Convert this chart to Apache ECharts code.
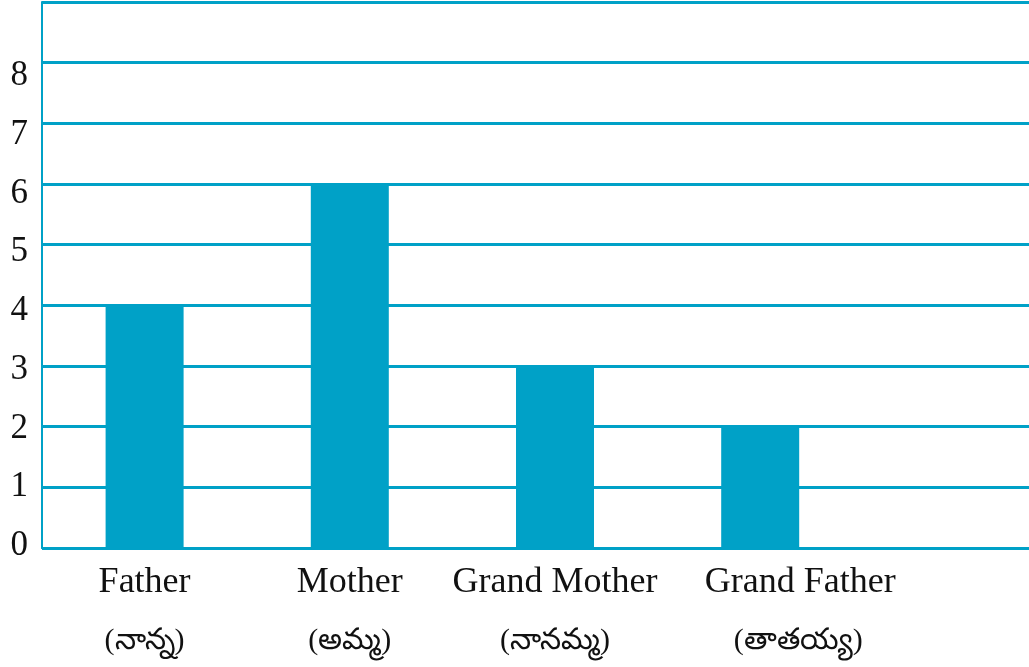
<!DOCTYPE html>
<html>
<head>
<meta charset="utf-8">
<script src="https://cdn.jsdelivr.net/npm/echarts@6/dist/echarts.min.js"></script>
<style>
  html, body { margin: 0; padding: 0; background: #ffffff; overflow: hidden; }
  /* the plot continues past the right edge of the window */
  #chart { width: 1068px; height: 667px; }
</style>
</head>
<body>
<div id="chart"></div>
<script>
// Family members (English + Telugu) and how many of each
const members = ['Father', 'Mother', 'Grand Mother', 'Grand Father', ''];
const membersTe = ['(నాన్న)', '(అమ్మ)', '(నానమ్మ)', '(తాతయ్య)', ''];
const counts = [4, 6, 3, 2, null];
const yTickLabels = [0, 1, 2, 3, 4, 5, 6, 7, 8];

const BLUE = '#00A1C7';
const SERIF = '"Liberation Serif", "Times New Roman", serif';

const chart = echarts.init(document.getElementById('chart'), null, { renderer: 'canvas' });

chart.setOption({
  backgroundColor: '#ffffff',
  animation: false,
  grid: { left: 42, top: 2, bottom: 119, right: 0, containLabel: false },
  xAxis: {
    type: 'category',
    data: members,
    axisLine: { show: true, lineStyle: { color: BLUE, width: 2 } },
    axisTick: { show: false },
    splitLine: { show: false },
    axisLabel: {
      interval: 0,
      margin: 6,
      formatter: (v, i) => {
        if (!v) return '';
        const s = i === 3 ? 'Shift' : '';
        return `{en${s}|${v}}\n{te${s}|${membersTe[i]}}`;
      },
      rich: {
        en: { fontFamily: SERIF, fontSize: 36, color: '#111', lineHeight: 58 },
        te: { fontFamily: SERIF, fontSize: 30, color: '#111', lineHeight: 58 },
        enShift: { fontFamily: SERIF, fontSize: 36, color: '#111', lineHeight: 58, padding: [0, 0, 0, 80] },
        teShift: { fontFamily: SERIF, fontSize: 30, color: '#111', lineHeight: 58, padding: [0, 0, 0, 76] }
      }
    }
  },
  yAxis: [
    {
      type: 'value',
      min: 0,
      max: 9,
      interval: 1,
      axisLine: { show: true, lineStyle: { color: BLUE, width: 2 } },
      axisTick: { show: false },
      axisLabel: { show: false },
      splitLine: { show: true, lineStyle: { color: BLUE, width: 3 } }
    },
    {
      // label scale for the count numbers along the left edge
      type: 'value',
      position: 'left',
      min: -0.034,
      max: 9.26,
      axisLine: { show: false },
      axisTick: { show: false },
      splitLine: { show: false },
      axisLabel: {
        customValues: yTickLabels,
        margin: 14,
        fontFamily: SERIF,
        fontSize: 35,
        color: '#111'
      }
    }
  ],
  series: [{
    type: 'bar',
    data: counts,
    barWidth: 78,
    itemStyle: { color: BLUE },
    z: 3
  }]
});
</script>
</body>
</html>
